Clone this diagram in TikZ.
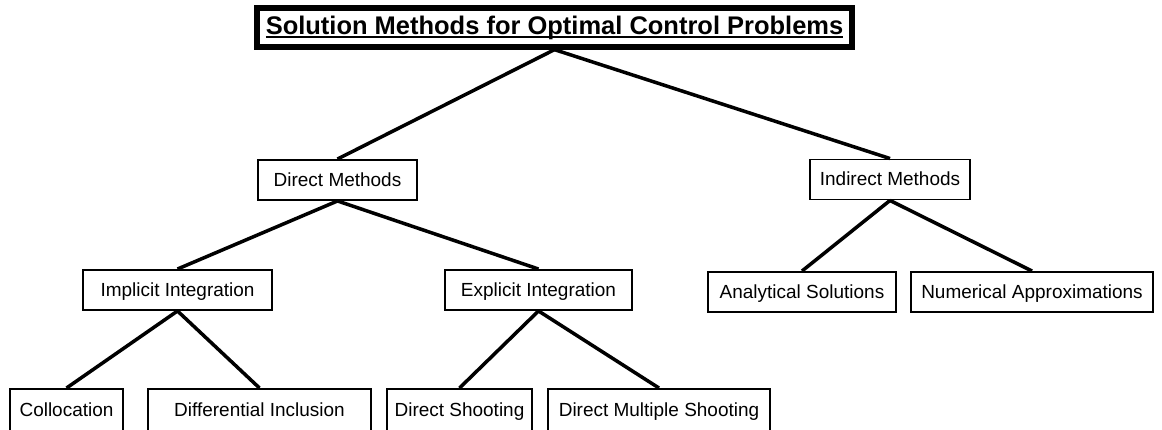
\documentclass[tikz,border=0pt]{standalone}
\usepackage{fontspec}
\setmainfont{Liberation Sans}
\usetikzlibrary{positioning}
\newcommand{\thickul}[1]{\setbox0\hbox{#1}\rlap{\rule[-2.4pt]{\wd0}{1.1pt}}\box0}
\begin{document}
\begin{tikzpicture}[x=0.02cm,y=-0.02cm,line join=miter,
 box/.style={draw,line width=1.1pt,inner sep=0pt,minimum height=0.8cm,
  text height=1.6ex,text depth=.3ex,font=\fontsize{10.8}{13}\selectfont},
 lowbox/.style={box,minimum height=0.86cm},
 link/.style={line width=2pt}]
\useasboundingbox (0,0) rectangle (1162,429);
% Kopf mit doppeltem Rahmen
\node[draw,line width=3pt,inner sep=0pt,minimum width=11.9cm,minimum height=0.78cm,
 font=\bfseries\fontsize{14.5}{17}\selectfont] (title) at (554.5,27.5)
 {\thickul{Solution Methods for Optimal Control Problems}};
\draw[line width=0.9pt] ([shift={(5,5)}]title.north west) rectangle ([shift={(-5,-5)}]title.south east);
% zweite Ebene
\node[box,minimum width=3.18cm] (direct) at (337.5,180) {Direct Methods};
\node[box,minimum width=3.2cm] (indirect) at (890,179.5) {Indirect Methods};
% dritte Ebene
\node[box,minimum width=3.78cm] (implicit) at (177.5,290) {Implicit Integration};
\node[box,minimum width=3.74cm] (explicit) at (538.5,290) {Explicit Integration};
\node[box,minimum width=3.76cm] (analytic) at (802,292) {Analytical Solutions};
\node[box,minimum width=4.84cm] (numeric) at (1032,292) {Numerical Approximations};
% unterste Ebene, unten abgeschnitten
\node[lowbox,minimum width=2.26cm] (colloc) at (66.5,410.5) {Collocation};
\node[lowbox,minimum width=4.46cm] (diffincl) at (259.5,410.5) {Differential Inclusion};
\node[lowbox,minimum width=2.9cm] (dshoot) at (459.5,410.5) {Direct Shooting};
\node[lowbox,minimum width=4.44cm] (dmultiple) at (659,410.5) {Direct Multiple Shooting};
% Verbindungen
\draw[link] (title.south) -- (direct.north);
\draw[link] (title.south) -- (indirect.north);
\draw[link] (direct.south) -- (implicit.north);
\draw[link] (direct.south) -- (explicit.north);
\draw[link] (indirect.south) -- (analytic.north);
\draw[link] (indirect.south) -- (numeric.north);
\draw[link] (implicit.south) -- (colloc.north);
\draw[link] (implicit.south) -- (diffincl.north);
\draw[link] (explicit.south) -- (dshoot.north);
\draw[link] (explicit.south) -- (dmultiple.north);
\end{tikzpicture}
\end{document}
